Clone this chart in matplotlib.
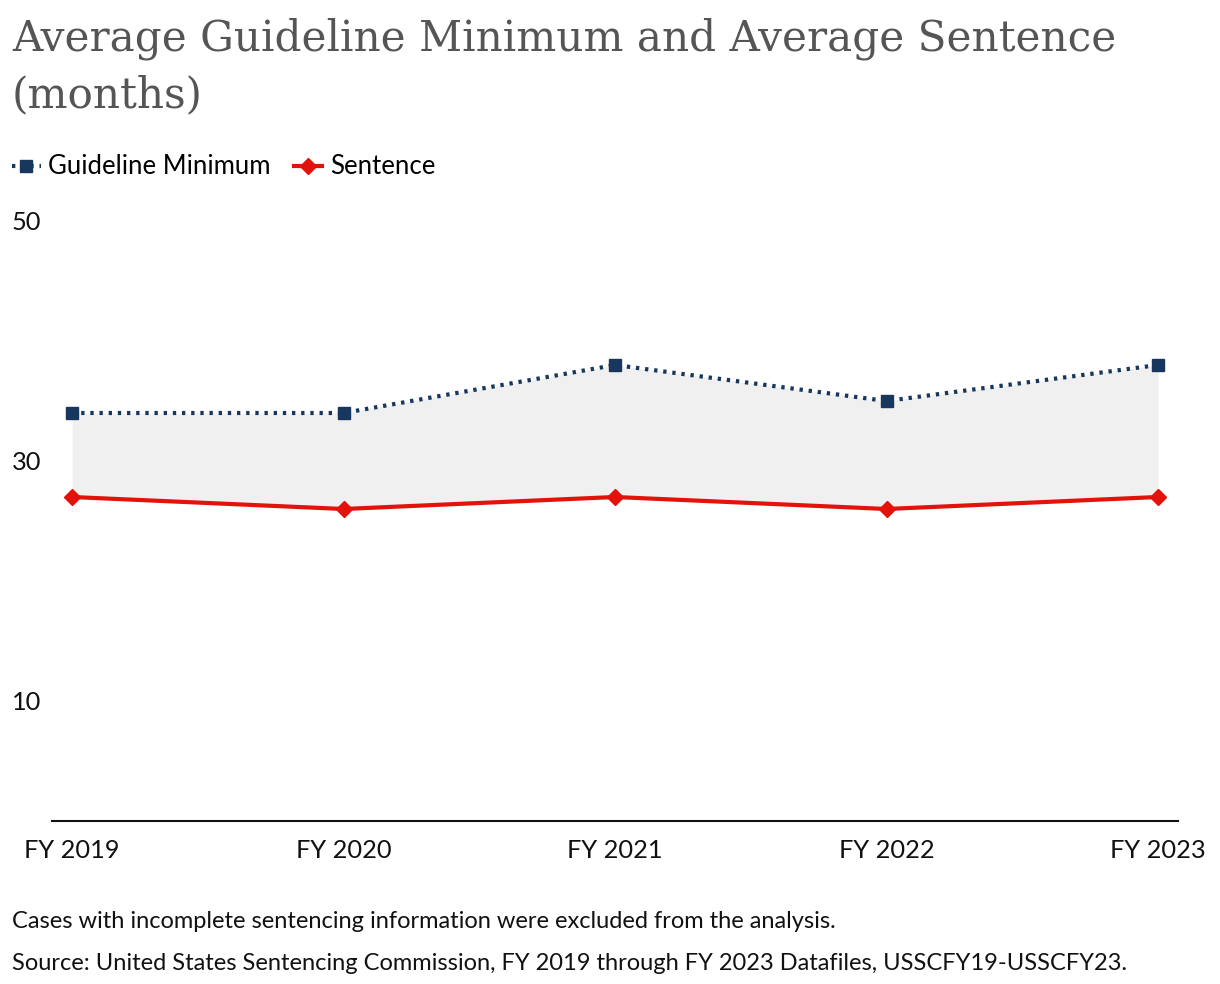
import matplotlib
matplotlib.use("Agg")
import matplotlib.pyplot as plt

years = ["FY 2019", "FY 2020", "FY 2021", "FY 2022", "FY 2023"]
guideline_min = [34, 34, 38, 35, 38]
sentence = [27, 26, 27, 26, 27]
y_ticks = [10, 30, 50]

title = "Average Guideline Minimum and Average Sentence\n(months)"
note1 = "Cases with incomplete sentencing information were excluded from the analysis."
note2 = "Source: United States Sentencing Commission, FY 2019 through FY 2023 Datafiles, USSCFY19-USSCFY23."

W, H = 1220, 984
fig = plt.figure(figsize=(W / 100, H / 100), dpi=100)
ax = fig.add_axes([52 / W, 1 - 821 / H, 1126 / W, 600 / H])

x = list(range(len(years)))
navy = "#17375e"
red = "#e3120b"

ax.fill_between(x, sentence, guideline_min, color="#f0f0f0", linewidth=0, zorder=1)
l1, = ax.plot(x, guideline_min, color=navy, linestyle=(0, (0.8, 1.4)), linewidth=3,
              marker="s", markersize=9, markerfacecolor=navy, markeredgecolor=navy,
              label="Guideline Minimum", zorder=3)
l2, = ax.plot(x, sentence, color=red, linewidth=3, marker="D", markersize=8,
              markerfacecolor=red, markeredgecolor=red, label="Sentence", zorder=3)

ax.set_xlim(-20 / 271.5, 4 + 20 / 271.5)
ax.set_ylim(0, 50)
ax.set_xticks(x)
ax.set_xticklabels(years, fontsize=18.3, family="Lato", color="#111111")
ax.set_yticks(y_ticks)
ax.set_yticklabels([str(v) for v in y_ticks], fontsize=18.3, family="Lato", color="#111111",
                   ha="left")
ax.tick_params(axis="y", length=0, pad=40 * 72 / 100)
ax.tick_params(axis="x", length=0, pad=13)
for s in ["top", "right", "left"]:
    ax.spines[s].set_visible(False)
ax.spines["bottom"].set_linewidth(1.5)
ax.spines["bottom"].set_color("#111111")
ax.set_facecolor("none")

fig.text(12 / W, 1 - 17 / H, title, fontsize=30.3, family="DejaVu Serif", color="#555555",
         va="top", ha="left", linespacing=1.45)

leg = fig.legend(handles=[l1, l2], loc="center left", bbox_to_anchor=(2 / W, 1 - 167 / H),
                 ncol=2, frameon=False, prop={"family": "Lato", "size": 18.5},
                 handlelength=1.1, handletextpad=0.3, columnspacing=0.9, borderaxespad=0)

fig.text(12 / W, 1 - 921 / H, note1, fontsize=17, family="Lato", color="#111111",
         va="center", ha="left")
fig.text(12 / W, 1 - 963 / H, note2, fontsize=17, family="Lato", color="#111111",
         va="center", ha="left")

fig.savefig("out.png", dpi=100, facecolor="white")
